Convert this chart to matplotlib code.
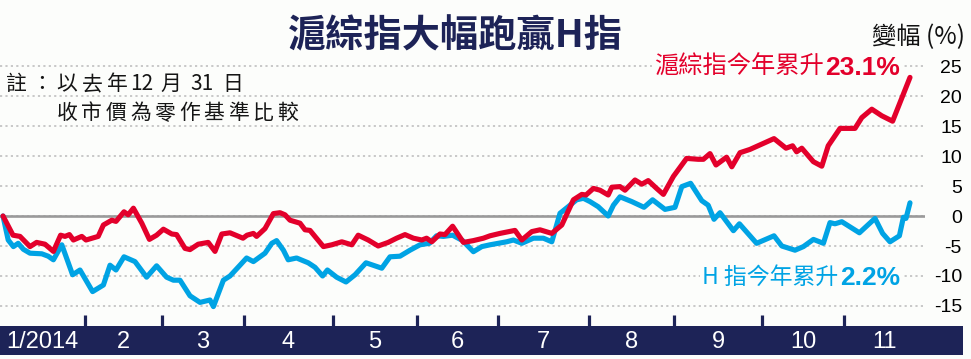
import matplotlib
matplotlib.use("Agg")
import matplotlib.pyplot as plt

plt.rcParams['axes.unicode_minus'] = False

# trading-day index (approx.) and % change vs 2013-12-31 close
sh_days = [0, 2.5, 4.25, 6.75, 8.4, 10.5, 12.6, 14.4, 15.5, 16.6, 17.6, 19.7, 20.75, 23.8, 25.1,
           27.2, 28.25, 30.25, 31.3, 32.6, 34.7, 36.6, 38.4, 40.1, 42.2, 43.4, 45.5, 46.75, 48.8,
           51.3, 53, 54.7, 56.75, 60, 61, 62.6, 63.4, 65.5, 67.6, 69.25, 70.5, 71.75, 74.25, 75.5,
           76.75, 80.1, 82.2, 84.7, 87.2, 88.8, 91.3, 93.8, 96.3, 98.4, 100.5, 102.6, 104.7, 105.9,
           107.2, 109.25, 110.5, 112.4, 115.1, 117.6, 120.1, 121.75, 124.25, 128, 129.7, 132.2,
           134.25, 137.2, 139.7, 142.6, 144.7, 145.75, 147.6, 149.25, 151.3, 152.2, 154.25, 155.5,
           158, 159.7, 161.3, 163.4, 165.1, 167.6, 170.9, 173.8, 175.1, 176.75, 178.25, 180.9,
           182.2, 184.25, 186.75, 192.75, 195.75, 197.4, 198.4, 199.7, 202.6, 204.7, 206.3, 209.25,
           213, 214.7, 217.2, 219.7, 222.4, 226.75]
sh_pct = [0, -3.2, -3.4, -5.1, -4.4, -4.7, -5.9, -3.2, -3.4, -3.1, -4.0, -3.4, -4.0, -3.4, -1.5,
          -0.7, -0.9, 0.7, 0.2, 1.3, -1.2, -3.9, -3.2, -2.2, -3.0, -3.1, -5.4, -5.6, -4.7,
          -4.4, -5.9, -3.0, -2.8, -3.7, -3.2, -2.9, -3.4, -2.1, 0.4, 0.55, 0.2, -0.7, -1.2, -2.3,
          -2.4, -5.1, -4.8, -4.3, -4.8, -3.2, -4.0, -5.0, -4.4, -3.7, -3.1, -3.7, -4.0, -3.7,
          -4.3, -3.0, -3.1, -1.7, -4.4, -4.1, -3.7, -3.3, -2.9, -2.4, -4.0, -2.6,
          -2.3, -2.9, -1.5, 2.7, 3.6, 3.5, 4.6, 4.3, 3.5, 4.8, 4.9, 4.3,
          6.0, 5.3, 5.9, 4.6, 3.6, 6.6, 9.6, 9.45, 9.45, 10.4, 8.5, 9.8,
          8.2, 10.55, 11.1, 12.9, 11.3, 11.7, 10.7, 11.3, 9.05, 8.3, 11.7, 14.6,
          14.6, 16.4, 17.8, 16.7, 15.8, 23.1]

h_days = [0, 1.3, 2.6, 3.8, 5.1, 6.75, 9.7, 11.3, 12.6, 14.7, 17.4, 19.25, 22.4, 25.1, 26.75,
          28.25, 30.25, 33, 35.9, 38.4, 40.9, 42.6, 44.25, 46.75, 49.25, 51.75, 52.6, 55.1,
          56.75, 59.25, 60.9, 62.6, 65.5, 67.2, 68.4, 70.1, 71.3, 73.4, 76.3, 78, 79.9, 81.1,
          83.4, 85.75, 88, 90.75, 94.7, 96.75, 99.25, 101.75, 104.25, 106.6, 108.4, 110.1,
          112.4, 114.9, 117.6, 119.7, 121.75, 125.9, 127.6, 129.7, 132.6, 135.1, 137.2, 139.25,
          141.3, 143.4, 145.1, 146.75, 148.8, 151.3, 152.6, 154.25, 157.2, 160.25, 162.4, 165.5,
          168, 169.7, 171.9, 174.7, 176.3, 177.75, 179.25, 182.6, 184.1, 188.4, 192.75, 194.7,
          198, 200.1, 202.6, 205.1, 206.75, 208, 209.7, 214.1, 218, 219.9, 221.75, 224.1,
          225.1, 225.75, 226.75]
h_pct = [0, -4.0, -5.1, -4.55, -5.55, -6.2, -6.3, -6.7, -7.3, -4.8, -9.8, -9.0, -12.6, -11.5, -8.2,
         -9.0, -6.8, -7.6, -10.2, -8.3, -10.2, -10.7, -10.7, -13.3, -14.4, -14.0, -15.1, -10.7,
         -10.0, -8.2, -7.0, -7.6, -6.2, -4.55, -4.1, -5.7, -7.3, -7.0, -7.8, -8.55, -10.0, -9.0,
         -10.2, -11.0, -9.8, -7.8, -8.7, -6.8, -6.7, -5.7, -4.8, -4.55, -3.3, -3.4,
         -3.2, -4.1, -5.95, -5.1, -4.8, -4.3, -4.0, -4.55, -3.7, -3.7, -4.3, 0.45,
         1.55, 2.7, 2.95, 2.4, 1.55, 0.0, 1.8, 3.2, 2.4, 1.45, 2.7, 1.1,
         1.45, 4.9, 5.45, 2.55, 1.8, -0.55, 0.55, -2.45, -1.3, -4.55, -3.3, -5.0,
         -5.7, -5.1, -3.9, -4.55, -1.1, -1.3, -0.95, -2.8, -0.4, -2.9, -4.3, -3.3,
         -0.2, -0.4, 2.2]

month_starts = [20.5, 39.75, 60.25, 82.5, 103.5, 123.75, 146.5, 167.75, 189.75, 210.25]
month_labels = ['1/2014', '2', '3', '4', '5', '6', '7', '8', '9', '10', '11']
yticks = [-15, -10, -5, 0, 5, 10, 15, 20, 25]

RED = '#e3002b'
BLUE = '#00a3e4'
NAVY = '#1d2357'
BG = '#fcfdfb'
CJK = ['Noto Sans CJK TC', 'DejaVu Sans']

W, H = 971, 359
fig = plt.figure(figsize=(W / 100, H / 100), dpi=100, facecolor=BG)

# main plot area
ax = fig.add_axes([0, (H - 326) / H, 925 / W, 286 / H])
ax.set_facecolor(BG)
ax.set_xlim(-0.75, 230.5)
ax.set_ylim(-110 / 6, 176 / 6)
ax.set_yticks(yticks)
ax.set_yticklabels([str(v) for v in yticks], fontsize=14, family='Liberation Sans')
ax.yaxis.tick_right()
ax.tick_params(axis='y', length=0, pad=26.6)
for lab in ax.get_yticklabels():
    lab.set_ha('right')
ax.set_xticks([])
ax.grid(axis='y', ls=(0, (1.2, 1.8)), color='#c4c4c4', lw=1.3)
ax.axhline(0, color='#9a9a9a', lw=1.9, zorder=2)
for s in ax.spines.values():
    s.set_visible(False)
ax.vlines(month_starts, -110 / 6, -16.5, color=NAVY, lw=2.3, zorder=3)

ax.plot(h_days, h_pct, color=BLUE, lw=3.7, solid_joinstyle='round', solid_capstyle='round', zorder=4)
ax.plot(sh_days, sh_pct, color=RED, lw=3.7, solid_joinstyle='round', solid_capstyle='round', zorder=5)

# month band
bx = fig.add_axes([0, 4 / H, 963 / W, 29 / H])
bx.set_facecolor(NAVY)
bx.set_xlim(-0.75, 240)
bx.set_ylim(0, 1)
bx.set_xticks([])
bx.set_yticks([])
for s in bx.spines.values():
    s.set_visible(False)
edges = [-0.75] + month_starts + [230.75]
for i, lab in enumerate(month_labels):
    bx.text((edges[i] + edges[i + 1]) / 2, 0.45, lab, color='white', fontsize=17,
            family='Liberation Sans', ha='center', va='center')

# titles and notes
fig.text(455 / W, 1 - 36 / H, '滬綜指大幅跑贏H指', family=CJK, fontsize=27.5, weight='bold',
         color=NAVY, ha='center', va='center')
fig.text(965 / W, 1 - 37 / H, '變幅 (%)', family=CJK, fontsize=17.5, color='#111111',
         ha='right', va='center')

note1 = ['註', '：', '以', '去', '年', '12', '月', '31', '日']
note1_x = [16, 42, 67, 92, 117, 142, 171, 202, 233]
for ch, x in zip(note1, note1_x):
    fig.text(x / W, 1 - 84 / H, ch, family=CJK, fontsize=15, color='#151515', ha='center', va='center')
note2 = '收市價為零作基準比較'
for i, ch in enumerate(note2):
    fig.text((67 + i * 24.5) / W, 1 - 113 / H, ch, family=CJK, fontsize=15, color='#151515',
             ha='center', va='center')

box = dict(facecolor=BG, edgecolor='none', pad=1.5)
fig.text(900 / W, 1 - 68 / H, f'{sh_pct[-1]:.1f}%', family='Liberation Sans', weight='bold',
         fontsize=19, color=RED, ha='right', va='center', bbox=box)
fig.text(824 / W, 1 - 67 / H, '滬綜指今年累升', family=CJK, fontsize=17.5, color=RED,
         ha='right', va='center', bbox=box)
fig.text(900 / W, 1 - 278 / H, f'{h_pct[-1]:.1f}%', family='Liberation Sans', weight='bold',
         fontsize=19, color=BLUE, ha='right', va='center', bbox=box)
fig.text(838 / W, 1 - 277 / H, 'H 指今年累升', family=CJK, fontsize=16.5, color=BLUE,
         ha='right', va='center', bbox=box)

fig.savefig('out.png', dpi=100, facecolor=BG)
